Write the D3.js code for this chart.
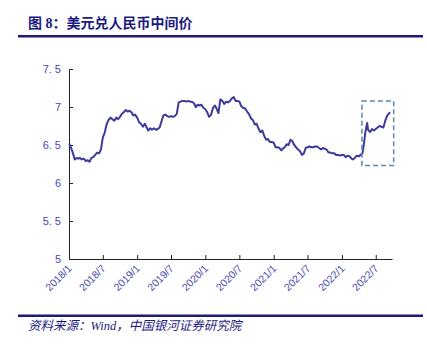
<!DOCTYPE html>
<html>
<head>
<meta charset="utf-8">
<script src="https://cdn.jsdelivr.net/npm/d3@7"></script>
<style>
  html, body { margin: 0; padding: 0; background: #fff; }
  svg { display: block; }
  .pre { white-space: pre; }
</style>
</head>
<body>
<svg id="chart" width="427" height="345"></svg>
<script>
// USD/CNY central parity, sampled roughly every ten days
const dates = [
  "2018-01-02","2018-01-11","2018-01-21","2018-02-01","2018-02-11","2018-02-21","2018-03-01","2018-03-11","2018-03-21",
  "2018-04-01","2018-04-11","2018-04-21","2018-05-01","2018-05-11","2018-05-21","2018-06-01","2018-06-11","2018-06-21",
  "2018-07-01","2018-07-11","2018-07-21","2018-08-01","2018-08-11","2018-08-21","2018-09-01","2018-09-11","2018-09-21",
  "2018-10-01","2018-10-11","2018-10-21","2018-11-01","2018-11-11","2018-11-21","2018-12-01","2018-12-11","2018-12-21",
  "2019-01-01","2019-01-11","2019-01-21","2019-02-01","2019-02-11","2019-02-21","2019-03-01","2019-03-11","2019-03-21",
  "2019-04-01","2019-04-11","2019-04-21","2019-05-01","2019-05-11","2019-05-21","2019-06-01","2019-06-11","2019-06-21",
  "2019-07-01","2019-07-11","2019-07-21","2019-08-01","2019-08-11","2019-08-21","2019-09-01","2019-09-11","2019-09-21",
  "2019-10-01","2019-10-11","2019-10-21","2019-11-01","2019-11-11","2019-11-21","2019-12-01","2019-12-11","2019-12-21",
  "2020-01-01","2020-01-11","2020-01-21","2020-02-01","2020-02-11","2020-02-21","2020-03-01","2020-03-11","2020-03-21",
  "2020-04-01","2020-04-11","2020-04-21","2020-05-01","2020-05-11","2020-05-21","2020-06-01","2020-06-11","2020-06-21",
  "2020-07-01","2020-07-11","2020-07-21","2020-08-01","2020-08-11","2020-08-21","2020-09-01","2020-09-11","2020-09-21",
  "2020-10-01","2020-10-11","2020-10-21","2020-11-01","2020-11-11","2020-11-21","2020-12-01","2020-12-11","2020-12-21",
  "2021-01-01","2021-01-11","2021-01-21","2021-02-01","2021-02-11","2021-02-21","2021-03-01","2021-03-11","2021-03-21",
  "2021-04-01","2021-04-11","2021-04-21","2021-05-01","2021-05-11","2021-05-21","2021-06-01","2021-06-11","2021-06-21",
  "2021-07-01","2021-07-11","2021-07-21","2021-08-01","2021-08-11","2021-08-21","2021-09-01","2021-09-11","2021-09-21",
  "2021-10-01","2021-10-11","2021-10-21","2021-11-01","2021-11-11","2021-11-21","2021-12-01","2021-12-11","2021-12-21",
  "2022-01-01","2022-01-11","2022-01-21","2022-02-01","2022-02-11","2022-02-21","2022-03-01","2022-03-11","2022-03-21",
  "2022-04-01","2022-04-11","2022-04-21","2022-04-28","2022-05-06","2022-05-11","2022-05-16","2022-05-21","2022-06-01",
  "2022-06-11","2022-06-21","2022-07-01","2022-07-11","2022-07-21","2022-08-01","2022-08-11","2022-08-21","2022-09-01",
  "2022-09-08","2022-09-16"
];
const rates = [
  6.52, 6.47, 6.40, 6.31, 6.33, 6.32, 6.33, 6.31, 6.32,
  6.29, 6.30, 6.28, 6.33, 6.34, 6.37, 6.40, 6.39, 6.44,
  6.60, 6.66, 6.77, 6.83, 6.86, 6.84, 6.82, 6.86, 6.84,
  6.87, 6.91, 6.93, 6.96, 6.94, 6.95, 6.93, 6.89, 6.90,
  6.86, 6.80, 6.78, 6.74, 6.78, 6.73, 6.69, 6.72, 6.70,
  6.72, 6.70, 6.71, 6.73, 6.81, 6.89, 6.90, 6.88, 6.87,
  6.88, 6.87, 6.88, 6.91, 7.06, 7.07, 7.08, 7.08, 7.07,
  7.08, 7.07, 7.07, 7.05, 7.00, 7.03, 7.02, 7.03, 6.99,
  6.97, 6.93, 6.87, 6.90, 6.99, 7.02, 6.98, 6.92, 7.10,
  7.08, 7.04, 7.07, 7.06, 7.08, 7.11, 7.13, 7.08, 7.08,
  7.07, 7.01, 6.99, 6.98, 6.94, 6.91, 6.85, 6.83, 6.77,
  6.78, 6.72, 6.67, 6.69, 6.62, 6.57, 6.58, 6.54, 6.54,
  6.53, 6.47, 6.47, 6.46, 6.43, 6.46, 6.47, 6.51, 6.50,
  6.57, 6.55, 6.50, 6.47, 6.44, 6.42, 6.37, 6.39, 6.46,
  6.47, 6.48, 6.47, 6.47, 6.48, 6.48, 6.46, 6.44, 6.46,
  6.45, 6.44, 6.40, 6.40, 6.39, 6.39, 6.37, 6.37, 6.36,
  6.37, 6.37, 6.34, 6.36, 6.35, 6.32, 6.31, 6.33, 6.36,
  6.35, 6.37, 6.39, 6.50, 6.66, 6.73, 6.79, 6.70, 6.67,
  6.71, 6.69, 6.71, 6.73, 6.75, 6.74, 6.73, 6.82, 6.89,
  6.91, 6.93
];
const yTicks = [5, 5.5, 6, 6.5, 7, 7.5];
const yTickLabels = ["5", "5. 5", "6", "6. 5", "7", "7. 5"];
const xTickDates = ["2018-01-01","2018-07-01","2019-01-01","2019-07-01","2020-01-01",
                    "2020-07-01","2021-01-01","2021-07-01","2022-01-01","2022-07-01"];
const xTickLabels = ["2018/1","2018/7","2019/1","2019/7","2020/1",
                     "2020/7","2021/1","2021/7","2022/1","2022/7"];
// highlighted period
const boxStart = "2022-04-18", boxEnd = "2022-10-05";
const boxLow = 6.23, boxHigh = 7.08;

const title = "图 8：美元兑人民币中间价";
const source = "资料来源：Wind，中国银河证券研究院";

const navy = "#1c1a80";
const lineColor = "#3d3a9c";
const labelColor = "#4a4ab4";
const headFont = "'Liberation Serif', 'Noto Sans CJK SC', serif";

const parse = d3.timeParse("%Y-%m-%d");
const series = dates.map((d, i) => ({ date: parse(d), value: rates[i] }));

const svg = d3.select("#chart");

const plot = { left: 69, right: 392, top: 69, bottom: 259 };

const x = d3.scaleTime()
  .domain([parse("2018-01-01"), parse("2022-09-26")])
  .range([plot.left, plot.right]);
const y = d3.scaleLinear()
  .domain([5, 7.5])
  .range([plot.bottom, plot.top]);

// header
svg.append("text")
  .attr("class", "pre")
  .attr("x", 28).attr("y", 28)
  .attr("font-family", headFont)
  .attr("font-weight", "bold")
  .attr("font-size", 14)
  .attr("fill", navy)
  .text(title);
svg.append("rect")
  .attr("x", 18).attr("y", 35).attr("width", 405).attr("height", 2.5)
  .attr("fill", navy);

// footer
svg.append("rect")
  .attr("x", 18).attr("y", 314.5).attr("width", 405).attr("height", 2.5)
  .attr("fill", navy);
svg.append("text")
  .attr("x", 28).attr("y", 330)
  .attr("font-family", headFont)
  .attr("font-style", "italic")
  .attr("font-size", 12.5)
  .attr("fill", navy)
  .text(source);

// y axis
const yAxis = d3.axisLeft(y)
  .tickValues(yTicks)
  .tickSizeInner(-4)
  .tickSizeOuter(0)
  .tickPadding(8)
  .tickFormat((d, i) => yTickLabels[i]);
const gy = svg.append("g")
  .attr("transform", `translate(${plot.left},0)`)
  .call(yAxis);
gy.select(".domain").attr("stroke", "#222").attr("stroke-width", 1);
gy.selectAll(".tick line").attr("stroke", "#222");
gy.selectAll(".tick text")
  .attr("font-family", "'Liberation Sans', Arial, sans-serif")
  .attr("font-size", 11)
  .attr("fill", labelColor);

// x axis
const xAxis = d3.axisBottom(x)
  .tickValues(xTickDates.map(parse))
  .tickSizeInner(-4)
  .tickSizeOuter(0)
  .tickFormat((d, i) => xTickLabels[i]);
const gx = svg.append("g")
  .attr("transform", `translate(0,${plot.bottom})`)
  .call(xAxis);
gx.select(".domain").attr("stroke", "#222").attr("stroke-width", 1.2);
gx.selectAll(".tick line").attr("stroke", "#222");
gx.selectAll(".tick text")
  .attr("font-family", "'Liberation Sans', Arial, sans-serif")
  .attr("font-size", 10.5)
  .attr("fill", labelColor)
  .attr("text-anchor", "end")
  .attr("dy", null)
  .attr("y", 0)
  .attr("transform", "translate(3,10) rotate(-45)");

// series line
const line = d3.line()
  .x(d => x(d.date))
  .y(d => y(d.value));
svg.append("path")
  .datum(series)
  .attr("fill", "none")
  .attr("stroke", lineColor)
  .attr("stroke-width", 2)
  .attr("stroke-linejoin", "round")
  .attr("d", line);

// dashed highlight box
svg.append("rect")
  .attr("x", x(parse(boxStart)))
  .attr("y", y(boxHigh))
  .attr("width", x(parse(boxEnd)) - x(parse(boxStart)))
  .attr("height", y(boxLow) - y(boxHigh))
  .attr("fill", "none")
  .attr("stroke", "#5a86b8")
  .attr("stroke-width", 1.5)
  .attr("stroke-dasharray", "5,3");
</script>
</body>
</html>
